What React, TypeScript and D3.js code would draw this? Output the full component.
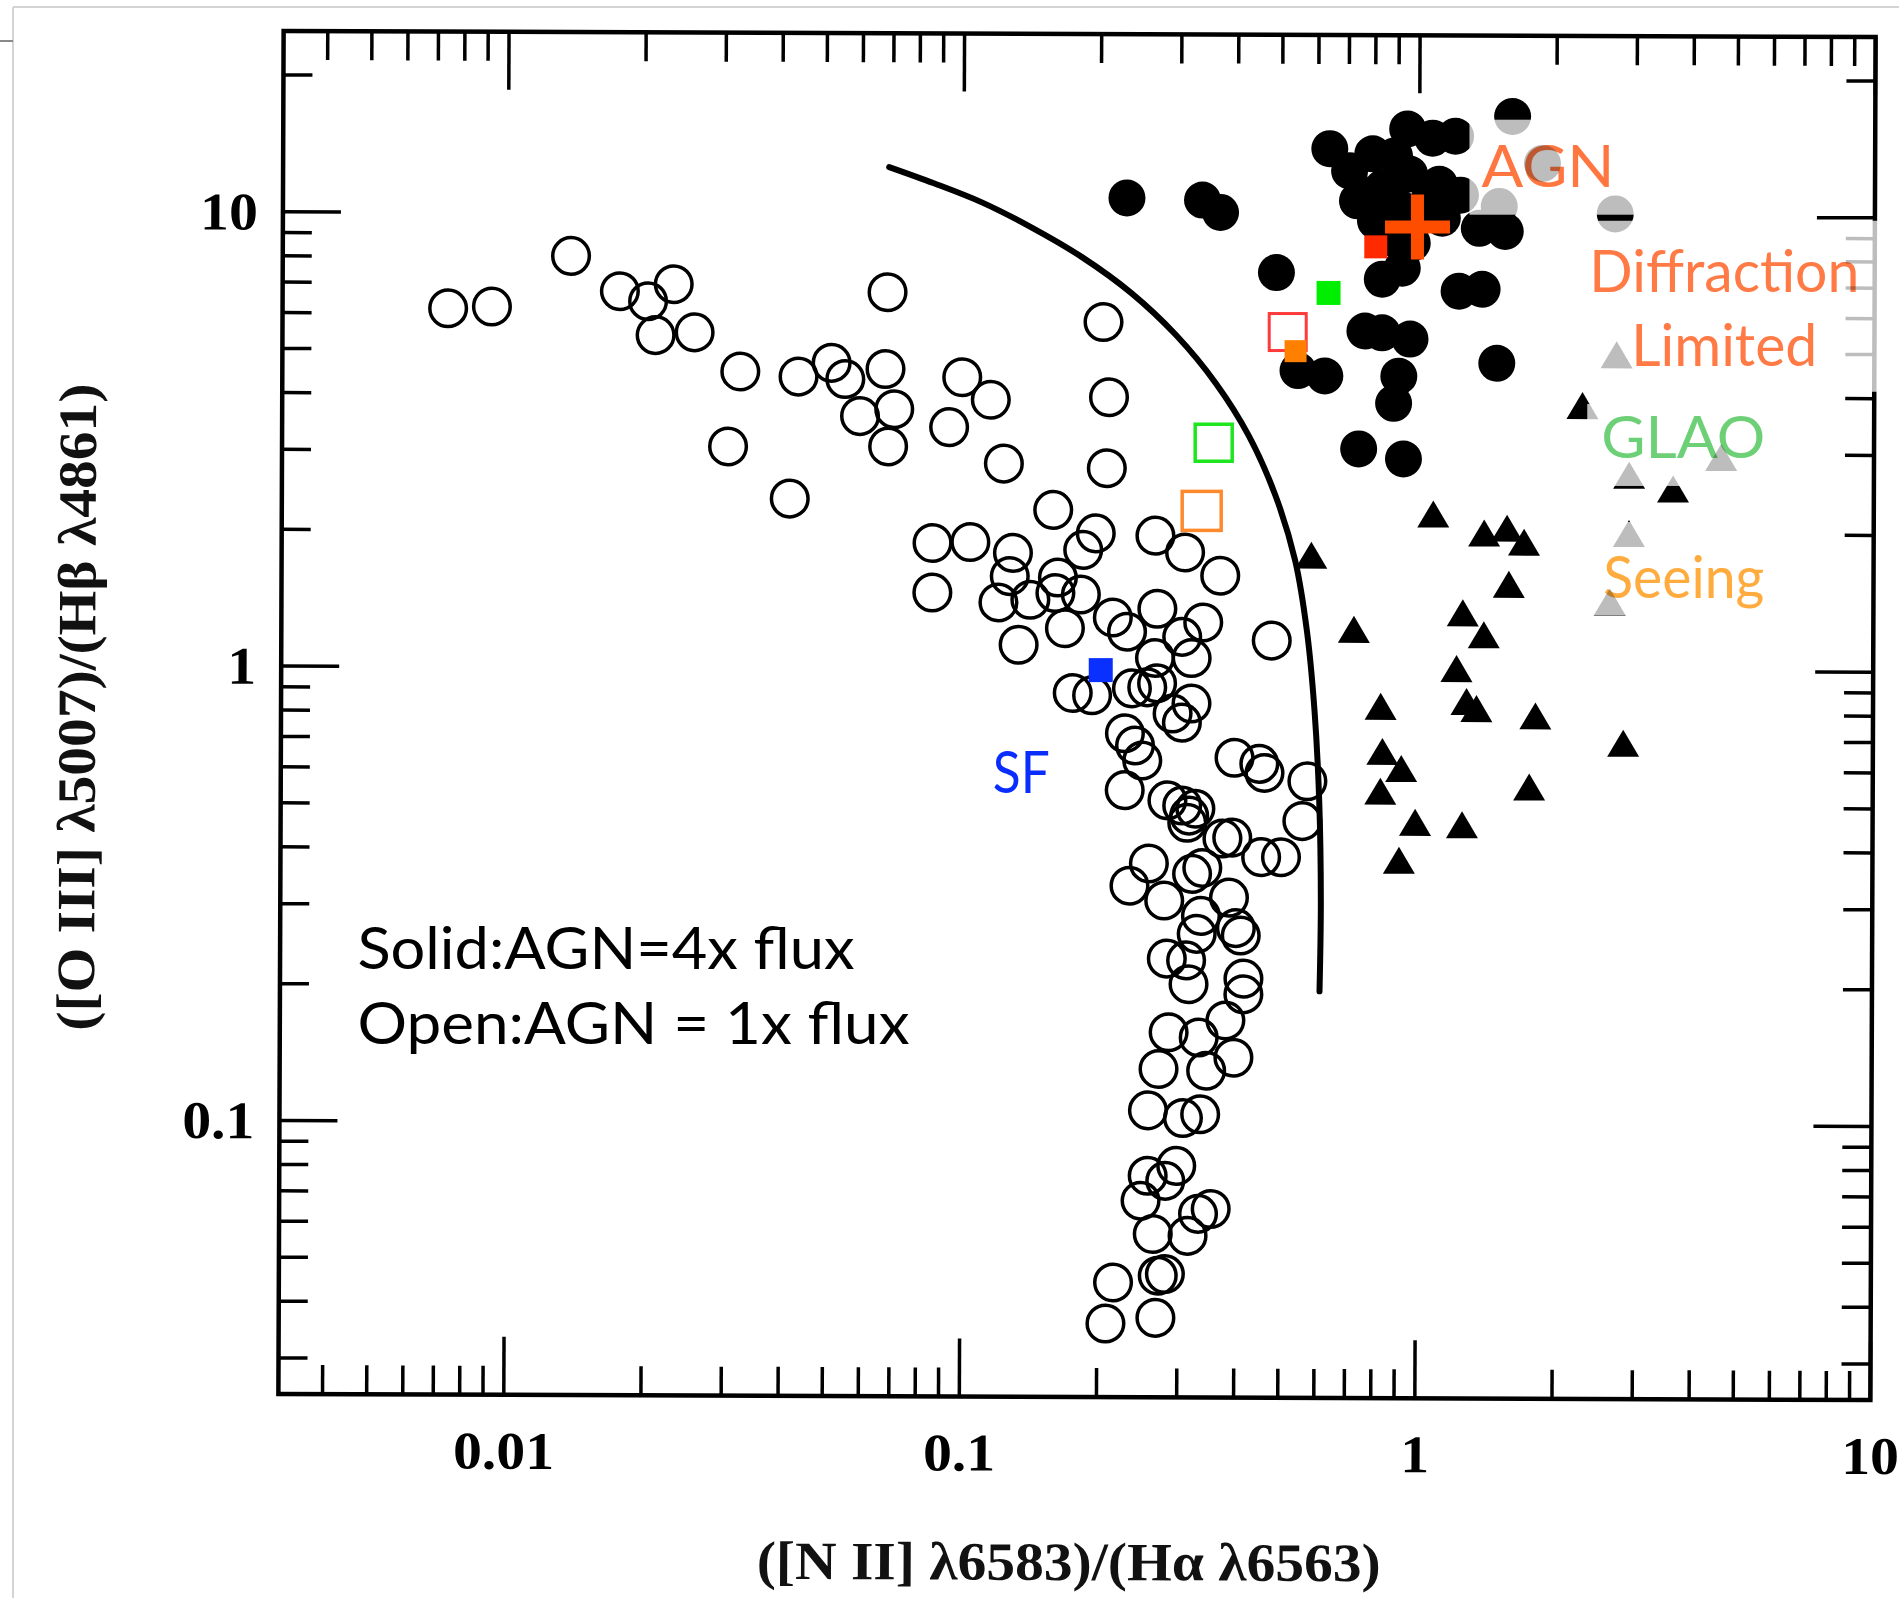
import React from "react";
import * as d3 from "d3";

const WIDTH = 1899;
const HEIGHT = 1598;

// H II regions (open circles): [N II]/Hα and [O III]/Hβ
const hiiNII = [
  0.00739, 0.00922, 0.01374, 0.0176, 0.0203, 0.0231, 0.0211, 0.0257, 0.0324, 0.0305,
  0.0417, 0.0435, 0.0514, 0.0551, 0.0594, 0.0675, 0.0706, 0.0685, 0.0681, 0.0995,
  0.115, 0.0932, 0.123, 0.203, 0.209, 0.207, 0.158, 0.0859, 0.104, 0.129,
  0.196, 0.184, 0.265, 0.308, 0.368, 0.0859, 0.127, 0.12, 0.141, 0.162,
  0.16, 0.182, 0.168, 0.133, 0.214, 0.23, 0.268, 0.338, 0.304, 0.265,
  0.319, 0.478, 0.175, 0.193, 0.236, 0.255, 0.268, 0.319, 0.29, 0.304,
  0.228, 0.24, 0.249, 0.228, 0.397, 0.45, 0.462, 0.574, 0.283, 0.305,
  0.316, 0.326, 0.313, 0.56, 0.393, 0.374, 0.455, 0.503, 0.258, 0.234,
  0.279, 0.321, 0.338, 0.387, 0.336, 0.401, 0.411, 0.329, 0.283, 0.312,
  0.316, 0.417, 0.417, 0.381, 0.286, 0.333, 0.397, 0.272, 0.346, 0.258,
  0.308, 0.336, 0.298, 0.258, 0.282, 0.249, 0.355, 0.333, 0.265, 0.316,
  0.272, 0.282, 0.217, 0.269, 0.209,
];
const hiiOIII = [
  6.15, 6.21, 8.04, 6.73, 6.4, 6.98, 5.39, 5.47, 4.49, 3.07,
  2.36, 4.38, 4.7, 4.33, 3.59, 4.56, 3.72, 3.08, 6.73, 4.38,
  3.91, 3.4, 2.83, 5.81, 3.97, 2.77, 2.24, 1.89, 1.9, 1.8,
  1.99, 1.83, 1.97, 1.81, 1.61, 1.47, 1.6, 1.4, 1.42, 1.59,
  1.47, 1.46, 1.23, 1.13, 1.3, 1.21, 1.36, 1.27, 1.18, 1.06,
  1.06, 1.16, 0.886, 0.876, 0.908, 0.913, 0.932, 0.842, 0.8, 0.764,
  0.723, 0.68, 0.63, 0.542, 0.64, 0.621, 0.593, 0.569, 0.515, 0.502,
  0.477, 0.494, 0.46, 0.465, 0.427, 0.425, 0.387, 0.387, 0.374, 0.334,
  0.31, 0.355, 0.366, 0.315, 0.287, 0.27, 0.26, 0.262, 0.231, 0.229,
  0.203, 0.209, 0.193, 0.169, 0.159, 0.155, 0.14, 0.132, 0.131, 0.107,
  0.103, 0.105, 0.0808, 0.0768, 0.0749, 0.0677, 0.065, 0.0634, 0.0572, 0.0567,
  0.0463, 0.0467, 0.0447, 0.0374, 0.0363,
];

// Seyfert galaxies (filled circles)
const seyfertNII = [
  0.228, 0.334, 0.366, 0.486, 0.543, 0.622, 0.635, 0.702, 0.789, 0.941,
  1.068, 1.199, 0.83, 0.951, 1.106, 0.801, 0.904, 1.123, 1.354, 1.544,
  0.83, 0.918, 1.224, 1.375, 0.761, 0.83, 0.956, 0.904, 0.881, 1.483,
  0.739, 0.927, 1.599, 1.497, 1.861, 2.691, 0.881, 0.731, 0.881, 1.046,
  1.23, 0.754, 0.965,
];
const seyfertOIII = [
  10.9, 10.8, 10.15, 7.49, 4.56, 4.44, 14.05, 12.56, 13.7, 15.55,
  14.85, 15.0, 11.53, 12.37, 11.76, 9.75, 10.41, 9.9, 9.41, 9.27,
  7.26, 7.68, 6.84, 6.91, 5.58, 5.53, 5.36, 4.44, 3.87, 4.75,
  3.07, 2.92, 16.6, 10.52, 13.09, 10.15, 8.9, 10.79, 13.56, 10.79,
  11.13, 11.13, 8.72,
];

// LINERs (filled triangles)
const linerNII = [
  0.583, 1.079, 1.396, 1.567, 1.708, 1.583, 1.255, 0.724, 1.396, 1.217,
  0.83, 1.281, 1.347, 1.815, 2.83, 0.838, 0.922, 0.83, 1.761, 0.99,
  1.255, 0.913, 2.289, 3.624, 2.718, 2.902, 2.902, 2.637, 4.619,
];
const linerOIII = [
  1.79, 2.21, 2.01, 2.06, 1.92, 1.55, 1.34, 1.23, 1.2, 1.01,
  0.833, 0.855, 0.825, 0.796, 0.694, 0.663, 0.608, 0.542, 0.555, 0.463,
  0.458, 0.382, 3.84, 2.52, 4.97, 2.7, 2.01, 1.42, 2.96,
];

// H II region boundary
const boundaryNII = [
  0.0685, 0.0859, 0.1095, 0.141, 0.1815, 0.2336, 0.2932, 0.3587, 0.4238, 0.4859,
  0.5374, 0.5709, 0.5943, 0.6096, 0.6158, 0.6127,
];
const boundaryOIII = [
  12.69, 11.7, 10.63, 9.363, 8.08, 6.73, 5.44, 4.266, 3.277, 2.417,
  1.739, 1.219, 0.8124, 0.5146, 0.3099, 0.1963,
];

// Simulated composite spectra
const simKeys = ["sf", "seeingOpen", "glaoOpen", "diffOpen", "seeingSolid", "glaoSolid", "diffSolid", "agn"];
const simNII = [0.2017, 0.336, 0.357, 0.519, 0.54, 0.638, 0.81, 1.0];
const simOIII = [0.995, 2.23, 3.15, 5.52, 5.01, 6.73, 8.5, 9.4];

const xTickValues = [0.01, 0.1, 1, 10];
const xTickLabels = ["0.01", "0.1", "1", "10"];
const yTickValues = [0.1, 1, 10];
const yTickLabels = ["0.1", "1", "10"];

const xTitle = "([N II] \u03bb6583)/(H\u03b1 \u03bb6563)";
const yTitle = "([O III] \u03bb5007)/(H\u03b2 \u03bb4861)";

// Annotation labels, anchored in data coordinates
const labelTexts = ["AGN", "Diffraction", "Limited", "GLAO", "Seeing", "SF", "Solid:AGN=4x flux", "Open:AGN = 1x flux"];
const labelNII = [1.382, 2.384, 2.946, 2.532, 2.558, 0.1169, 0.004711, 0.004711];
const labelOIII = [11.53, 6.77, 4.65, 2.916, 1.434, 0.533, 0.2184, 0.1493];

// ---- styles ----
const labelStyle: Record<string, { color: string; width: number }> = {
  AGN: { color: "#ff7640", width: 133 },
  Diffraction: { color: "#ff7a45", width: 270 },
  Limited: { color: "#ff7a45", width: 186 },
  GLAO: { color: "#6dd077", width: 164 },
  Seeing: { color: "#ffab3e", width: 161 },
  SF: { color: "#0a2dff", width: 57 },
  "Solid:AGN=4x flux": { color: "#000000", width: 497 },
  "Open:AGN = 1x flux": { color: "#000000", width: 552 },
};

// translucent panels behind some labels: offsets from the label anchor
const panelStyle: Record<string, [number, number, number, number]> = {
  AGN: [-12, -67, 158, 28],
  Diffraction: [-5, -71, 320, 100],
  GLAO: [-14, -54, 173, 28],
  Seeing: [-14, -76, 168, 17],
};

type SimStyle = { shape: "square" | "cross"; size: number; fill?: string; stroke?: string; sw?: number; thick?: number };
const simStyle: Record<string, SimStyle> = {
  sf: { shape: "square", size: 24, fill: "#0a30ff" },
  seeingOpen: { shape: "square", size: 39, stroke: "#ff8a2e", sw: 3.5 },
  glaoOpen: { shape: "square", size: 37, stroke: "#1ee61e", sw: 3.5 },
  diffOpen: { shape: "square", size: 37, stroke: "#ff3a3a", sw: 3 },
  seeingSolid: { shape: "square", size: 22, fill: "#ff7f00" },
  glaoSolid: { shape: "square", size: 24, fill: "#00ee00" },
  diffSolid: { shape: "square", size: 23, fill: "#ff2a00" },
  agn: { shape: "cross", size: 65, thick: 13, fill: "#ff4d00" },
};

const SERIF = "'Liberation Serif', 'Times New Roman', serif";
const SANS = "Lato, 'Open Sans', sans-serif";

function minorTicks(domain: number[]) {
  const out: number[] = [];
  for (let e = -4; e <= 2; e++) {
    for (let k = 2; k <= 9; k++) {
      const v = +(k * Math.pow(10, e)).toPrecision(6);
      if (v > domain[0] && v < domain[1]) out.push(v);
    }
  }
  return out;
}

export default function App() {
  const x = d3.scaleLog().domain([0.0032, 10]).range([281, 1873]);
  const y = d3.scaleLog().domain([0.025, 25]).range([1397, 34]);

  const left = x.range()[0];
  const right = x.range()[1];
  const top = y.range()[1];
  const bottom = y.range()[0];
  const cx = (left + right) / 2;
  const cy = (top + bottom) / 2;

  const MAJOR = 58;
  const MINOR = 29;

  const xMinor = minorTicks(x.domain());
  const yMinor = minorTicks(y.domain());

  const hii = hiiNII.map((v, i) => [v, hiiOIII[i]]);
  const seyferts = seyfertNII.map((v, i) => [v, seyfertOIII[i]]);
  const liners = linerNII.map((v, i) => [v, linerOIII[i]]);
  const boundary = boundaryNII.map((v, i) => [v, boundaryOIII[i]] as [number, number]);

  const boundaryPath = d3
    .line<[number, number]>()
    .x((d) => x(d[0]))
    .y((d) => y(d[1]))
    .curve(d3.curveCatmullRom.alpha(0.5))(boundary) as string;

  const triW = 32;
  const triH = 27;
  const triPath = `M0,${-triH / 2}L${triW / 2},${triH / 2}L${-triW / 2},${triH / 2}Z`;

  const tickStroke = { stroke: "#000", strokeWidth: 3.5 };
  const LABEL_STRETCH = 1.09;

  return (
    <div style={{ position: "absolute", left: 0, top: 0, width: WIDTH, height: HEIGHT, background: "#fff" }}>
      <svg width={WIDTH} height={HEIGHT} style={{ display: "block" }}>
        <rect x={0} y={0} width={WIDTH} height={HEIGHT} fill="#ffffff" />
        {/* page edge lines */}
        <line x1={13} y1={7} x2={WIDTH} y2={7} stroke="#d4d4d4" strokeWidth={2} />
        <line x1={13} y1={7} x2={13} y2={HEIGHT} stroke="#d4d4d4" strokeWidth={2} />
        <line x1={0} y1={41} x2={13} y2={41} stroke="#8a8a8a" strokeWidth={2} />

        <g transform={`rotate(0.22 ${cx} ${cy})`}>
          {/* frame */}
          <rect x={left} y={top} width={right - left} height={bottom - top} fill="none" stroke="#000" strokeWidth={4.5} />

          {/* x ticks, bottom and top */}
          {xTickValues.map((v) => (
            <g key={`xM${v}`}>
              <line x1={x(v)} x2={x(v)} y1={bottom} y2={bottom - MAJOR} {...tickStroke} />
              <line x1={x(v)} x2={x(v)} y1={top} y2={top + MAJOR} {...tickStroke} />
            </g>
          ))}
          {xMinor.map((v) => (
            <g key={`xm${v}`}>
              <line x1={x(v)} x2={x(v)} y1={bottom} y2={bottom - MINOR} {...tickStroke} />
              <line x1={x(v)} x2={x(v)} y1={top} y2={top + MINOR} {...tickStroke} />
            </g>
          ))}

          {/* y ticks, left and right */}
          {yTickValues.map((v) => (
            <g key={`yM${v}`}>
              <line x1={left} x2={left + MAJOR} y1={y(v)} y2={y(v)} {...tickStroke} />
              <line x1={right} x2={right - MAJOR} y1={y(v)} y2={y(v)} {...tickStroke} />
            </g>
          ))}
          {yMinor.map((v) => (
            <g key={`ym${v}`}>
              <line x1={left} x2={left + MINOR} y1={y(v)} y2={y(v)} {...tickStroke} />
              <line x1={right} x2={right - MINOR} y1={y(v)} y2={y(v)} {...tickStroke} />
            </g>
          ))}

          {/* tick labels */}
          {xTickValues.map((v, i) => (
            <text
              key={`xl${v}`}
              transform={`translate(${x(v)} ${bottom + 74}) scale(${LABEL_STRETCH} 1)`}
              textAnchor="middle"
              fontFamily={SERIF}
              fontWeight="bold"
              fontSize={53}
              fill="#000"
            >
              {xTickLabels[i]}
            </text>
          ))}
          {yTickValues.map((v, i) => (
            <text
              key={`yl${v}`}
              transform={`translate(${left - 25} ${y(v) + 18}) scale(${LABEL_STRETCH} 1)`}
              textAnchor="end"
              fontFamily={SERIF}
              fontWeight="bold"
              fontSize={53}
              fill="#000"
            >
              {yTickLabels[i]}
            </text>
          ))}

          {/* axis titles */}
          <text x={(left + right) / 2 - 5} y={1580} textAnchor="middle" fontFamily={SERIF} fontWeight="bold" fontSize={54} fill="#111" textLength={624} lengthAdjust="spacingAndGlyphs">
            {xTitle}
          </text>
          <text transform={`translate(95 ${711}) rotate(-90)`} textAnchor="middle" fontFamily={SERIF} fontWeight="bold" fontSize={54} fill="#111" textLength={647} lengthAdjust="spacingAndGlyphs">
            {yTitle}
          </text>

          {/* boundary curve */}
          <path d={boundaryPath} fill="none" stroke="#000" strokeWidth={6} strokeLinecap="round" strokeLinejoin="round" />

          {/* H II regions */}
          {hii.map((d, i) => (
            <circle key={`h${i}`} cx={x(d[0])} cy={y(d[1])} r={18.3} fill="none" stroke="#000" strokeWidth={3.5} />
          ))}
          {/* Seyferts */}
          {seyferts.map((d, i) => (
            <circle key={`s${i}`} cx={x(d[0])} cy={y(d[1])} r={18.5} fill="#000" />
          ))}
          {/* LINERs */}
          {liners.map((d, i) => (
            <path key={`l${i}`} d={triPath} transform={`translate(${x(d[0])},${y(d[1])})`} fill="#000" />
          ))}
        </g>

        {/* translucent label panels */}
        {labelTexts.map((t, i) => {
          const p = panelStyle[t];
          if (!p) return null;
          const ax = x(labelNII[i]);
          const ay = y(labelOIII[i]);
          return (
            <rect key={`p${t}`} x={ax + p[0]} y={ay + p[1]} width={p[2] - p[0]} height={p[3] - p[1]} fill="#ffffff" fillOpacity={0.74} />
          );
        })}

        {/* simulated spectra markers */}
        {simKeys.map((k, i) => {
          const s = simStyle[k];
          const px = x(simNII[i]);
          const py = y(simOIII[i]);
          if (s.shape === "cross") {
            const h = s.size / 2;
            const t = (s.thick || 10) / 2;
            return (
              <g key={k}>
                <rect x={px - h} y={py - t} width={s.size} height={t * 2} fill={s.fill} />
                <rect x={px - t} y={py - h} width={t * 2} height={s.size} fill={s.fill} />
              </g>
            );
          }
          const half = s.size / 2;
          return (
            <rect
              key={k}
              x={px - half}
              y={py - half}
              width={s.size}
              height={s.size}
              fill={s.fill || "none"}
              stroke={s.stroke || "none"}
              strokeWidth={s.sw || 0}
            />
          );
        })}

        {/* annotation labels */}
        {labelTexts.map((t, i) => {
          const st = labelStyle[t];
          return (
            <text
              key={`t${t}`}
              x={x(labelNII[i])}
              y={y(labelOIII[i])}
              fontFamily={SANS}
              fontSize={58}
              fill={st.color}
              textLength={st.width}
              lengthAdjust="spacingAndGlyphs"
              style={{ mixBlendMode: "multiply" }}
            >
              {t}
            </text>
          );
        })}
      </svg>
    </div>
  );
}
